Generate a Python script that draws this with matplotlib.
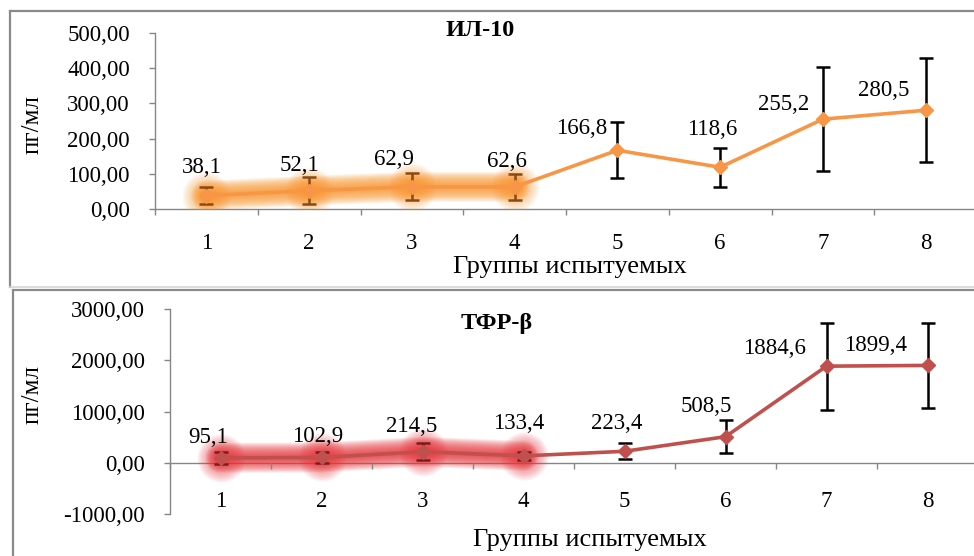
import numpy as np
import matplotlib
matplotlib.use("Agg")
import matplotlib.pyplot as plt
from matplotlib.lines import Line2D

plt.rcParams['font.family'] = ['Liberation Serif', 'DejaVu Serif']

# Данные по группам испытуемых
groups = [1, 2, 3, 4, 5, 6, 7, 8]

il10_mean = [38.1, 52.1, 62.9, 62.6, 166.8, 118.6, 255.2, 280.5]
il10_err = [25, 38, 38, 37, 80, 56, 148, 148]

tgf_mean = [95.1, 102.9, 214.5, 133.4, 223.4, 508.5, 1884.6, 1899.4]
tgf_err = [110, 110, 165, 80, 155, 320, 850, 825]

# Смещения подписей значений (пиксели: вправо, вверх)
il10_label_off = [(-5, 28), (-10, 25), (-18, 27), (-8, 25),
                  (-36, 22), (-8, 38), (-39, 15), (-42, 20)]
tgf_label_off = [(-12, 20), (-4, 21), (-11, 25), (-5, 32),
                 (-8, 28), (-19, 30), (-52, 18), (-52, 20)]

W, H = 974, 556
PT = 0.72  # пунктов на пиксель при dpi=100
AXIS_GRAY = '#868686'
N_GLOW = 4  # сколько первых точек подсвечено


def fmt(v):
    return f"{v:.2f}".replace('.', ',')


def px_box(x0, y0, x1, y1):
    # прямоугольник в пикселях (от верхнего левого угла) -> доли фигуры
    return [x0 / W, 1 - y1 / H, (x1 - x0) / W, (y1 - y0) / H]


def glow(ax, x, y, color, r_line, r_mark):
    n = 16
    for i in range(n):
        k = 1 - i / n
        ax.plot(x, y, color=color, lw=2 * r_line * k * PT, alpha=0.1,
                solid_capstyle='round', solid_joinstyle='round', zorder=1)
        ax.plot(x, y, 'o', color=color, ms=2 * r_mark * k * PT, mew=0,
                alpha=0.07, zorder=1)


def draw_panel(ax, mean, err, color, glow_color, glow_ecolor, ylim, yticks,
               offs, title, title_xy, xlabel_xy, ylabel_xy, tick_pad):
    ax.set_xlim(0.5, 8.5)
    ax.set_ylim(*ylim)

    glow(ax, groups[:N_GLOW], mean[:N_GLOW], glow_color, 15, 24)
    ax.errorbar(groups[:N_GLOW], mean[:N_GLOW], yerr=err[:N_GLOW], fmt='none',
                ecolor=glow_ecolor, elinewidth=1.8, capsize=4.7, capthick=1.8,
                zorder=2)
    ax.errorbar(groups[N_GLOW:], mean[N_GLOW:], yerr=err[N_GLOW:], fmt='none',
                ecolor='black', elinewidth=1.8, capsize=4.7, capthick=1.8,
                zorder=2)
    ax.plot(groups, mean, color=color, lw=2.6, marker='D', ms=7.5,
            mec=color, mfc=color, zorder=5)

    for g, v, (dx, dy) in zip(groups, mean, offs):
        ax.annotate(f"{v:.1f}".replace('.', ','), (g, v),
                    xytext=(dx * PT, dy * PT), textcoords='offset points',
                    ha='center', va='center', fontsize=16.5, zorder=6)

    for s in ['top', 'right']:
        ax.spines[s].set_visible(False)
    for s in ['left', 'bottom']:
        ax.spines[s].set_color(AXIS_GRAY)
        ax.spines[s].set_linewidth(1.0)
    ax.spines['bottom'].set_position(('data', 0))
    ax.spines['bottom'].set_zorder(0.5)

    ax.set_yticks(yticks)
    ax.set_yticklabels([fmt(v) for v in yticks])
    ax.tick_params(axis='y', direction='out', length=4, width=1,
                   color=AXIS_GRAY, labelsize=16.5, pad=14)

    ax.set_xticks(groups)
    ax.set_xticklabels([str(g) for g in groups])
    ax.set_xticks(np.arange(0.5, 9.0, 1.0), minor=True)
    ax.tick_params(axis='x', which='major', length=0, labelsize=16.5,
                   pad=tick_pad)
    ax.tick_params(axis='x', which='minor', direction='out', length=4,
                   width=1, color=AXIS_GRAY)
    ax.patch.set_alpha(0)

    fig.text(title_xy[0] / W, 1 - title_xy[1] / H, title, ha='center',
             va='center', fontsize=17.5, fontweight='bold')
    fig.text(xlabel_xy[0] / W, 1 - xlabel_xy[1] / H, 'Группы испытуемых',
             ha='center', va='center', fontsize=19)
    fig.text(ylabel_xy[0] / W, 1 - ylabel_xy[1] / H, 'пг/мл', ha='center',
             va='center', rotation=90, fontsize=18)


fig = plt.figure(figsize=(W / 100, H / 100), dpi=100)
fig.patch.set_facecolor('white')

# рамки областей диаграмм
fig.add_artist(Line2D([10 / W, 10 / W], [1 - 287 / H, 1 - 11 / H],
                      color='#8a8a8a', lw=1.6))
fig.add_artist(Line2D([10 / W, 1.0], [1 - 11 / H, 1 - 11 / H],
                      color='#8a8a8a', lw=1.6))
fig.add_artist(Line2D([10 / W, 1.0], [1 - 287 / H, 1 - 287 / H],
                      color='#d4d4d4', lw=1.2))
fig.add_artist(Line2D([12.5 / W, 12.5 / W], [0, 1 - 290 / H],
                      color='#8a8a8a', lw=1.6))
fig.add_artist(Line2D([12.5 / W, 1.0], [1 - 290 / H, 1 - 290 / H],
                      color='#8a8a8a', lw=1.6))

ax1 = fig.add_axes(px_box(155, 33, 977, 209))
draw_panel(ax1, il10_mean, il10_err, '#F79646', '#F9952C', '#8a4a12',
           (0, 500), [0, 100, 200, 300, 400, 500], il10_label_off, 'ИЛ-10',
           (480, 30), (570, 267), (33, 125), 17)

ax2 = fig.add_axes(px_box(170, 309, 978, 514))
draw_panel(ax2, tgf_mean, tgf_err, '#C0504D', '#E8363B', '#7a1c1c',
           (-1000, 3000), [-1000, 0, 1000, 2000, 3000], tgf_label_off,
           'ТФР-β', (497, 323), (590, 540), (33, 395), 20)

fig.savefig('out.png', dpi=100, facecolor='white')
